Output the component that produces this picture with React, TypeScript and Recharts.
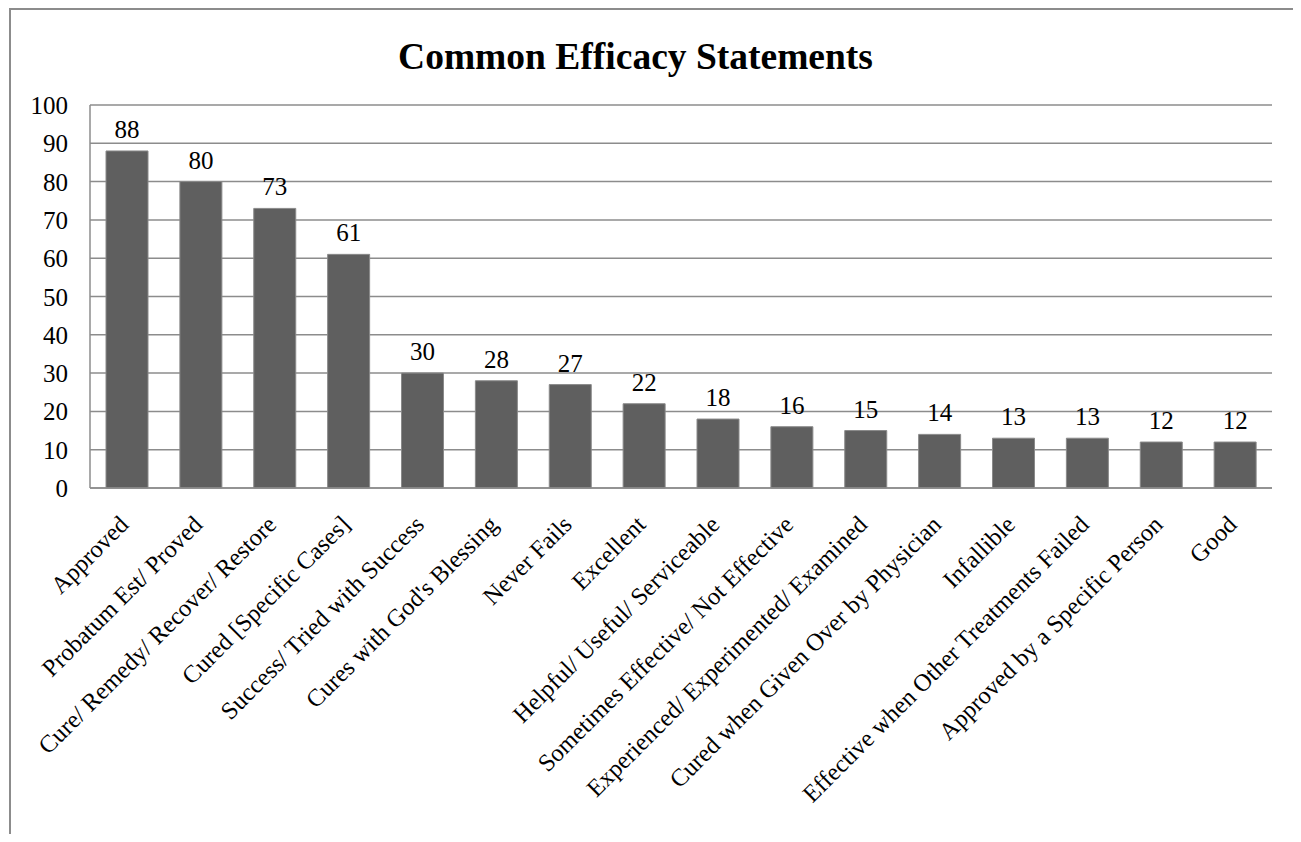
import React from 'react';
import { BarChart, Bar, XAxis, YAxis, CartesianGrid, LabelList } from 'recharts';

const categories = [
  'Approved',
  'Probatum Est/ Proved',
  'Cure/ Remedy/ Recover/ Restore',
  'Cured [Specific Cases]',
  'Success/ Tried with Success',
  "Cures with God's Blessing",
  'Never Fails',
  'Excellent',
  'Helpful/ Useful/ Serviceable',
  'Sometimes Effective/ Not Effective',
  'Experienced/ Experimented/ Examined',
  'Cured when Given Over by Physician',
  'Infallible',
  'Effective when Other Treatments Failed',
  'Approved by a Specific Person',
  'Good',
];

const counts = [88, 80, 73, 61, 30, 28, 27, 22, 18, 16, 15, 14, 13, 13, 12, 12];

const yTicks = [0, 10, 20, 30, 40, 50, 60, 70, 80, 90, 100];

const data = categories.map((name, i) => ({ name, value: counts[i] }));

const FONT = '"Liberation Serif", "Times New Roman", serif';

const SlantTick = ({ x, y, payload }: any) => (
  <g transform={`translate(${x + 3},${y + 30})`}>
    <text
      transform="rotate(-45)"
      textAnchor="end"
      style={{ fontFamily: FONT, fontSize: 24.5, fill: '#000' }}
    >
      {payload.value}
    </text>
  </g>
);

const ValueTick = ({ x, y, payload }: any) => (
  <text
    x={x - 14}
    y={y + 9}
    textAnchor="end"
    style={{ fontFamily: FONT, fontSize: 25, fill: '#000' }}
  >
    {payload.value}
  </text>
);

const BarValue = ({ x, y, width, value }: any) => (
  <text
    x={x + width / 2}
    y={y - 13}
    textAnchor="middle"
    style={{ fontFamily: FONT, fontSize: 25, fill: '#000' }}
  >
    {value}
  </text>
);

export default function App() {
  return (
    <div
      style={{
        position: 'relative',
        width: 1301,
        height: 842,
        margin: -8,
        overflow: 'hidden',
        background: '#fff',
        fontFamily: FONT,
      }}
    >
      <div
        style={{
          position: 'absolute',
          left: 9,
          top: 8,
          width: 1300,
          height: 900,
          border: '2px solid #8c8c8c',
        }}
      />
      <div
        style={{
          position: 'absolute',
          left: -15,
          top: 35,
          width: 1301,
          textAlign: 'center',
          fontWeight: 'bold',
          fontSize: 37.5,
        }}
      >
        Common Efficacy Statements
      </div>
      <div style={{ position: 'absolute', left: 0, top: 0 }}>
        <BarChart
          width={1301}
          height={842}
          data={data}
          margin={{ top: 105, right: 29, left: 10, bottom: 24 }}
        >
          <CartesianGrid vertical={false} stroke="#8c8c8c" strokeWidth={1.5} />
          <XAxis
            dataKey="name"
            interval={0}
            height={330}
            tick={<SlantTick />}
            tickLine={false}
            axisLine={{ stroke: '#8c8c8c', strokeWidth: 1.5 }}
          />
          <YAxis
            domain={[0, 100]}
            ticks={yTicks}
            width={80}
            tickLine={false}
            axisLine={{ stroke: '#8c8c8c', strokeWidth: 1.5 }}
            tick={<ValueTick />}
          />
          <Bar
            dataKey="value"
            barSize={42}
            fill="#5f5f5f"
            stroke="#8a8a8a"
            strokeWidth={1}
            isAnimationActive={false}
          >
            <LabelList dataKey="value" content={<BarValue />} />
          </Bar>
        </BarChart>
      </div>
    </div>
  );
}
